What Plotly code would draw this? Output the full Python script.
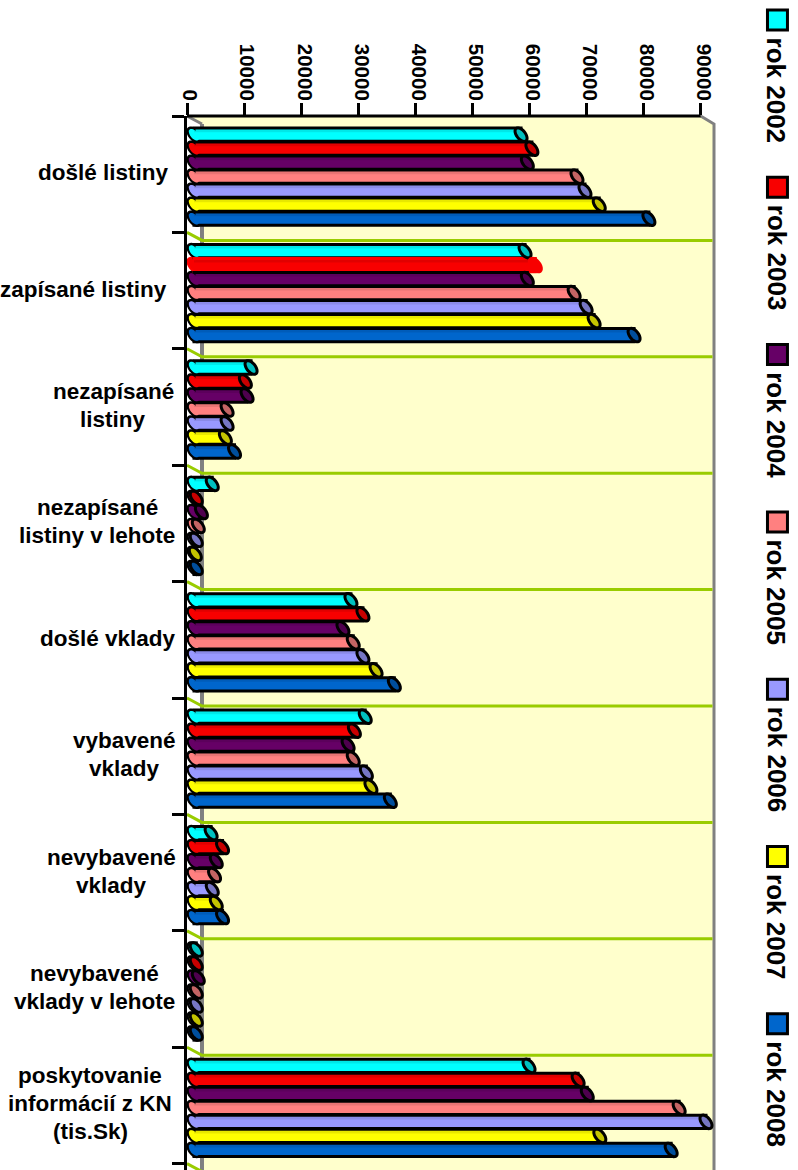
import math
import plotly.graph_objects as go

categories = [["došlé listiny"], ["zapísané listiny"], ["nezapísané", "listiny"],
              ["nezapísané", "listiny v lehote"], ["došlé vklady"], ["vybavené", "vklady"],
              ["nevybavené", "vklady"], ["nevybavené", "vklady v lehote"],
              ["poskytovanie", "informácií z KN", "(tis.Sk)"]]
years = ["rok 2002", "rok 2003", "rok 2004", "rok 2005", "rok 2006", "rok 2007", "rok 2008"]
y2002 = [57300, 58000, 10000, 3200, 27500, 30000, 3000, 400, 58700]
y2003 = [59200, 59800, 9000, 400, 29600, 28100, 5000, 400, 67300]
y2004 = [58400, 58400, 9300, 1300, 26100, 27000, 3900, 750, 68900]
y2005 = [67100, 66600, 5800, 750, 27900, 27900, 3600, 400, 85000]
y2006 = [68500, 68700, 5800, 400, 29600, 30200, 3200, 400, 89700]
y2007 = [71000, 70100, 5500, 230, 31900, 31000, 3900, 400, 71100]
y2008 = [79700, 77100, 7100, 400, 35100, 34400, 5000, 400, 83600]
series = [y2002, y2003, y2004, y2005, y2006, y2007, y2008]
tick_values = list(range(0, 100000, 10000))

body_colors = ["#00FFFF", "#F80000", "#660066", "#FF8080", "#9999FF", "#FFFF00", "#0066CC"]
cap_colors = ["#00C0C0", "#C80000", "#4E004E", "#C46464", "#7676C4", "#C4C400", "#004E9C"]
label_centers = [103, 83.5, 113, 97, 108, 124.5, 111.5, 94, 90]

# Layout geometry in page pixels
X0, X90, XR, Y0, CAT_H, W, H = 186.7, 700.7, 717.0, 116.0, 116.4, 798, 1170
PX_PER_UNIT = (X90 - X0) / 90000
DEPTH_Y = 8
BAR_PITCH, BAR_H = 14.0, 13.3
GROUP_SHIFT = 2.5
BASE = 7 / PX_PER_UNIT


def px(x):
    return (x - X0) / (XR - X0)


def py(y):
    return 1 - (y - Y0) / (H - Y0)


def ellipse(cx_data, cy_data, scale=1.0):
    """Tilted cap outline around a data point."""
    a, b, ux, uy = 8.0 * scale, 4.4 * scale, 0.62, 0.78
    pts = []
    for k in range(24):
        t = 2 * math.pi * k / 24
        dx = a * math.cos(t) * ux - b * math.sin(t) * uy
        dy = a * math.cos(t) * uy + b * math.sin(t) * ux
        pts.append((cx_data + dx / PX_PER_UNIT, cy_data + dy / CAT_H))
    return "M" + " L".join(f"{x:.1f},{y:.4f}" for x, y in pts) + " Z"


fig = go.Figure()
shapes = []
GRAY, GREEN, WALL = "#808080", "#99CC00", "#FFFFCC"


def poly(points, fill=None, color=None, width=0, layer="below"):
    path = "M" + " L".join(f"{px(x):.5f},{py(y):.5f}" for x, y in points)
    if fill:
        path += " Z"
    shapes.append(dict(type="path", xref="paper", yref="paper", path=path, layer=layer,
                       fillcolor=fill if fill else "rgba(0,0,0,0)",
                       line=dict(color=color if color else "rgba(0,0,0,0)", width=width)))


wx0, wx1 = X0 + 15.0, 714
poly([(X0, Y0), (X90, Y0), (wx1, Y0 + DEPTH_Y), (wx1, H), (wx0, H), (wx0, Y0 + DEPTH_Y)], fill=WALL)
poly([(X0, Y0), (wx0, Y0 + DEPTH_Y)], color=GRAY, width=3)
poly([(X90, Y0), (wx1, Y0 + DEPTH_Y), (wx1, H)], color=GRAY, width=3)
poly([(wx0, Y0 + DEPTH_Y), (wx0, H)], color=GRAY, width=4)
for i in range(1, len(categories) + 1):
    ty = Y0 + i * CAT_H
    poly([(X0, ty), (wx0, ty + DEPTH_Y), (wx1 - 1.5, ty + DEPTH_Y)], color=GREEN, width=3)
poly([(X0, Y0), (X90, Y0)], color="#000000", width=3, layer="above")

n = len(categories)
above = []
ys_by_series = []
for j, vals in enumerate(series):
    ys = [i + (GROUP_SHIFT + (j - 3) * BAR_PITCH) / CAT_H for i in range(n)]
    ys_by_series.append(ys)
    outline = ["#000000"] * n
    if j == 1:
        outline[1] = "#FF0000"  # this bar has no black border in the original
    fig.add_trace(go.Bar(orientation="h", name=years[j], x=vals, y=ys, base=BASE,
                         width=BAR_H / CAT_H, cliponaxis=False, showlegend=False,
                         marker=dict(color=body_colors[j], line=dict(color=outline, width=3))))
    for i in range(n):
        # rear end of the tube, sits under the bar
        shapes.append(dict(type="path", xref="x", yref="y", layer="below",
                           path=ellipse(BASE, ys[i]), fillcolor=body_colors[j],
                           line=dict(color=outline[i], width=3)))
        # hides the bar's own left border
        above.append(dict(type="path", xref="x", yref="y", layer="above",
                          path=ellipse(BASE, ys[i], 0.85), fillcolor=body_colors[j],
                          line=dict(width=0)))
        # soft shading along the tube's upper edge
        above.append(dict(type="rect", xref="x", yref="y", layer="above",
                          x0=BASE, x1=BASE + vals[i],
                          y0=ys[i] - 5 / CAT_H, y1=ys[i] - 2.5 / CAT_H,
                          fillcolor="rgba(0,0,0,0.09)", line=dict(width=0)))
caps = []
for j, vals in enumerate(series):
    for i in range(n):
        end = BASE + vals[i]
        plain = (j == 1 and i == 1)
        caps.append(dict(type="path", xref="x", yref="y", layer="above",
                         path=ellipse(end, ys_by_series[j][i]),
                         fillcolor=body_colors[j] if plain else cap_colors[j],
                         line=dict(color=body_colors[j] if plain else "#000000", width=3)))
shapes += above + caps

LABEL_FONT = dict(family="Liberation Sans", size=22.5, color="#000000", weight="bold")
LINE_H = 28.0
annotations = []
for i, lines in enumerate(categories):
    mid = Y0 + (i + 0.5) * CAT_H - 1.5
    for k, line in enumerate(lines):
        annotations.append(dict(xref="paper", yref="paper", x=px(label_centers[i]),
                                y=py(mid + (k - (len(lines) - 1) / 2) * LINE_H), text=line,
                                showarrow=False, xanchor="center", yanchor="middle",
                                font=LABEL_FONT))

LEG_X, LEG_TOP, LEG_PITCH, SQ = 777.5, 10.0, 167.3, 20
for j, year in enumerate(years):
    top = LEG_TOP + j * LEG_PITCH
    poly([(LEG_X - SQ / 2, top), (LEG_X + SQ / 2, top), (LEG_X + SQ / 2, top + SQ), (LEG_X - SQ / 2, top + SQ)],
         fill=body_colors[j], color="#000000", width=3, layer="above")
    annotations.append(dict(xref="paper", yref="paper", x=px(LEG_X - 1), y=py(top + 26), text=year,
                            showarrow=False, textangle=90, xanchor="center", yanchor="top",
                            font=dict(family="Liberation Sans", size=26, color="#000000", weight="bold")))

fig.update_layout(
    width=W, height=H, autosize=False, showlegend=False, barmode="overlay",
    margin=dict(l=X0, r=W - XR, t=Y0, b=0, pad=0),
    paper_bgcolor="#FFFFFF", plot_bgcolor="#FFFFFF",
    shapes=shapes, annotations=annotations,
    font=dict(family="Liberation Sans", color="#000000"),
    xaxis=dict(side="top", range=[0, (XR - X0) / PX_PER_UNIT], tickvals=tick_values,
               ticktext=[str(v) for v in tick_values],
               tickangle=90, showgrid=False, zeroline=False, showline=False,
               ticks="outside", ticklen=12, tickwidth=3, tickcolor="#000000",
               ticklabelstandoff=-5, ticklabelshift=3,
               tickfont=dict(family="Liberation Sans", size=20.5, color="#000000", weight="bold")),
    yaxis=dict(range=[(H - Y0) / CAT_H - 0.5, -0.5], tickvals=[i - 0.5 for i in range(n + 1)],
               showticklabels=False, showgrid=False, zeroline=False, showline=True, linecolor="#000000",
               linewidth=3, ticks="outside", ticklen=12, tickwidth=3, tickcolor="#000000"),
)
fig.write_html("out.html", config={"displayModeBar": False},
               post_script="document.body.style.margin='0';")
